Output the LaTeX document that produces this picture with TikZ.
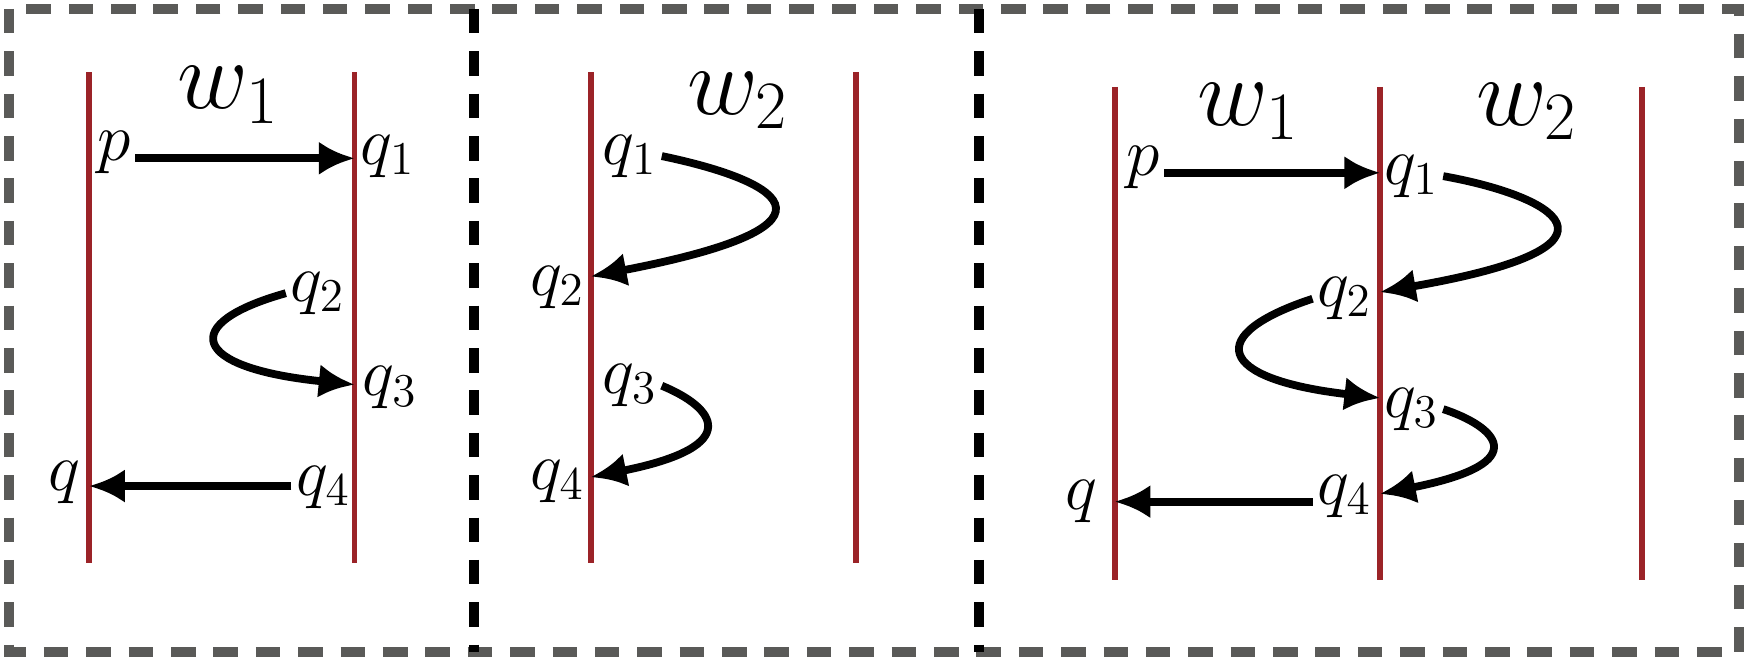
\documentclass[tikz,border=0pt]{standalone}
\usepackage{amsmath}
\usepackage{tikz}
\usetikzlibrary{arrows.meta,positioning}
\definecolor{wallred}{RGB}{155,35,40}
\definecolor{framegray}{RGB}{90,90,88}
\tikzset{
  wall/.style={draw=wallred, line width=0.05cm},
  run/.style={line width=0.07cm, -{Latex[length=0.32cm,width=0.3cm]}},
  st/.style={font=\fontsize{17}{20}\selectfont, inner sep=1pt},
  word/.style={font=\fontsize{26}{30}\selectfont}
}
\begin{document}
\begin{tikzpicture}[x=0.01cm,y=-0.01cm]
\useasboundingbox (0,0) rectangle (1568,597);
\draw[framegray, line width=0.09cm, dash pattern=on 0.22cm off 0.16cm] (8,8) rectangle (1560,585);
\draw[black, line width=0.09cm, dash pattern=on 0.22cm off 0.16cm] (425,8) -- (425,585);
\draw[black, line width=0.09cm, dash pattern=on 0.22cm off 0.16cm] (878,8) -- (878,585);

% panel 1
\draw[wall] (80,65) -- (80,505);
\draw[wall] (318,65) -- (318,505);
\node[word] (aw) at (205,85) {$w_1$};
\node[st] (ap) at (102,137) {$p$};
\node[st] (aq1) at (348,140) {$q_1$};
\node[st] (aq2) at (285,263) {$q_2$};
\node[st] (aq3) at (350,348) {$q_3$};
\node[st] (aq4) at (290,437) {$q_4$};
\node[st] (aq) at (58,433) {$q$};
\coordinate (aq1e) at (318,142);
\coordinate (aq3e) at (318,345);
\coordinate (aqe) at (80,436);
\draw[run] (ap.east |- aq1e) -- (aq1e);
\draw[run] (aq2.west) .. controls (160,290) and (170,330) .. (aq3e);
\draw[run] (aq4.west |- aqe) -- (aqe);

% panel 2
\draw[wall] (530,65) -- (530,505);
\draw[wall] (768,65) -- (768,505);
\node[word] (bw) at (662,90) {$w_2$};
\node[st] (bq1) at (565,140) {$q_1$};
\node[st] (bq2) at (500,258) {$q_2$};
\node[st] (bq3) at (565,346) {$q_3$};
\node[st] (bq4) at (500,432) {$q_4$};
\coordinate (bq2e) at (530,248);
\coordinate (bq4e) at (530,428);
\draw[run] (bq1.east) .. controls (690,160) and (780,200) .. (bq2e);
\draw[run] (bq3.east) .. controls (640,365) and (670,400) .. (bq4e);

% panel 3
\draw[wall] (1000,78) -- (1000,520);
\draw[wall] (1238,78) -- (1238,520);
\draw[wall] (1473,78) -- (1473,520);
\node[word] (cw1) at (1120,100) {$w_1$};
\node[word] (cw2) at (1370,100) {$w_2$};
\node[st] (cp) at (1025,150) {$p$};
\node[st] (cq1) at (1266,158) {$q_1$};
\node[st] (cq2) at (1206,268) {$q_2$};
\node[st] (cq3) at (1266,367) {$q_3$};
\node[st] (cq4) at (1206,445) {$q_4$};
\node[st] (cq) at (970,450) {$q$};
\coordinate (cq1e) at (1238,155);
\coordinate (cq2e) at (1238,262);
\coordinate (cq3e) at (1238,357);
\coordinate (cq4e) at (1238,443);
\coordinate (cqe) at (1000,450);
\draw[run] (cp.east |- cq1e) -- (cq1e);
\draw[run] (cq1.east) .. controls (1390,175) and (1480,220) .. (cq2e);
\draw[run] (cq2.west) .. controls (1080,300) and (1090,340) .. (cq3e);
\draw[run] (cq3.east) .. controls (1340,382) and (1380,415) .. (cq4e);
\draw[run] (cq4.west |- cqe) -- (cqe);
\end{tikzpicture}
\end{document}
